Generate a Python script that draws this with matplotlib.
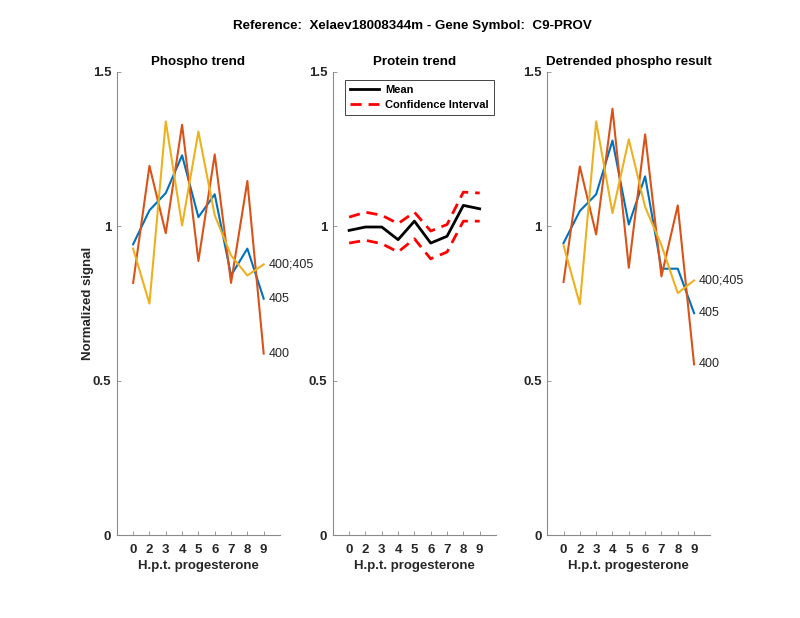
import matplotlib
matplotlib.use('Agg')
import matplotlib.pyplot as plt
import numpy as np

plt.rcParams['font.family'] = ['Liberation Sans', 'DejaVu Sans']

# time points (labels) shown at categorical positions 1..9
time_labels = ['0', '2', '3', '4', '5', '6', '7', '8', '9']

# phospho trend (raw)
phospho_405 = [0.942, 1.052, 1.108, 1.230, 1.030, 1.104, 0.841, 0.928, 0.766]
phospho_400 = [0.817, 1.196, 0.978, 1.329, 0.888, 1.233, 0.817, 1.147, 0.588]
phospho_400_405 = [0.928, 0.750, 1.340, 1.003, 1.307, 1.036, 0.906, 0.841, 0.877]

# protein trend
protein_mean = [0.987, 0.998, 0.998, 0.957, 1.017, 0.946, 0.968, 1.068, 1.057]
protein_upper = [1.030, 1.046, 1.036, 1.009, 1.046, 0.985, 1.006, 1.111, 1.108]
protein_lower = [0.946, 0.955, 0.944, 0.917, 0.960, 0.895, 0.917, 1.017, 1.017]

# detrended phospho
detr_405 = [0.946, 1.050, 1.104, 1.278, 1.006, 1.162, 0.863, 0.863, 0.719]
detr_400 = [0.820, 1.194, 0.974, 1.381, 0.866, 1.298, 0.838, 1.068, 0.553]
detr_400_405 = [0.939, 0.748, 1.340, 1.043, 1.282, 1.063, 0.939, 0.784, 0.825]

site_names = ['405', '400', '400;405']
colors = ['#0072BD', '#D95319', '#EDB120']

x = np.arange(1, len(time_labels) + 1)

fig = plt.figure(figsize=(8, 6.18), dpi=100)
lefts = [0.146, 0.416, 0.684]
axes = [fig.add_axes([l, 0.134, 0.204, 0.7495]) for l in lefts]


def style_axis(ax, title):
    ax.set_xlim(0, 10)
    ax.set_ylim(0, 1.5)
    ax.set_xticks(x)
    ax.set_xticklabels(time_labels)
    ax.set_yticks([0, 0.5, 1, 1.5])
    ax.set_yticklabels(['0', '0.5', '1', '1.5'])
    for s in ['top', 'right']:
        ax.spines[s].set_visible(False)
    for s in ['left', 'bottom']:
        ax.spines[s].set_color('#8a8a8a')
        ax.spines[s].set_linewidth(0.8)
    ax.tick_params(direction='in', length=3, width=0.6, color='#8a8a8a',
                   labelsize=9.5, labelcolor='#262626')
    ax.tick_params(axis='x', pad=6)
    ax.tick_params(axis='y', pad=4)
    for lab in ax.get_xticklabels() + ax.get_yticklabels():
        lab.set_fontweight('bold')
    ax.set_title(title, fontsize=9.6, fontweight='bold', pad=5)
    ax.set_xlabel('H.p.t. progesterone', fontsize=9.5, fontweight='bold',
                  color='#262626', labelpad=3)


def plot_sites(ax, series):
    for vals, c in zip(series, colors):
        ax.plot(x, vals, color=c, linewidth=1.5)
    for vals, name in zip(series, site_names):
        ax.text(x[-1] + 0.3, vals[-1], name, fontsize=9, va='center',
                color='#262626')


plot_sites(axes[0], [phospho_405, phospho_400, phospho_400_405])
style_axis(axes[0], 'Phospho trend')
axes[0].set_ylabel('Normalized signal', fontsize=9.5, fontweight='bold',
                   color='#262626', labelpad=-1)

ax = axes[1]
ax.plot(x, protein_mean, color='black', linewidth=2, label='Mean')
ax.plot(x, protein_upper, color='red', linewidth=2, linestyle=(0, (4, 2.5)),
        label='Confidence Interval')
ax.plot(x, protein_lower, color='red', linewidth=2, linestyle=(0, (4, 2.5)))
style_axis(ax, 'Protein trend')
leg = ax.legend(loc='upper left', bbox_to_anchor=(0.06, 0.988),
                prop={'weight': 'bold', 'size': 8}, fancybox=False,
                framealpha=1, edgecolor='#262626', borderpad=0.5,
                handlelength=2.6, handletextpad=0.5, labelspacing=0.4,
                borderaxespad=0.2)
leg.get_frame().set_linewidth(0.6)

plot_sites(axes[2], [detr_405, detr_400, detr_400_405])
style_axis(axes[2], 'Detrended phospho result')

fig.text(0.516, 1 - 26 / 618, 'Reference:  Xelaev18008344m - Gene Symbol:  C9-PROV',
         ha='center', va='center', fontsize=9.6, fontweight='bold')

fig.savefig('out.png', dpi=100)
